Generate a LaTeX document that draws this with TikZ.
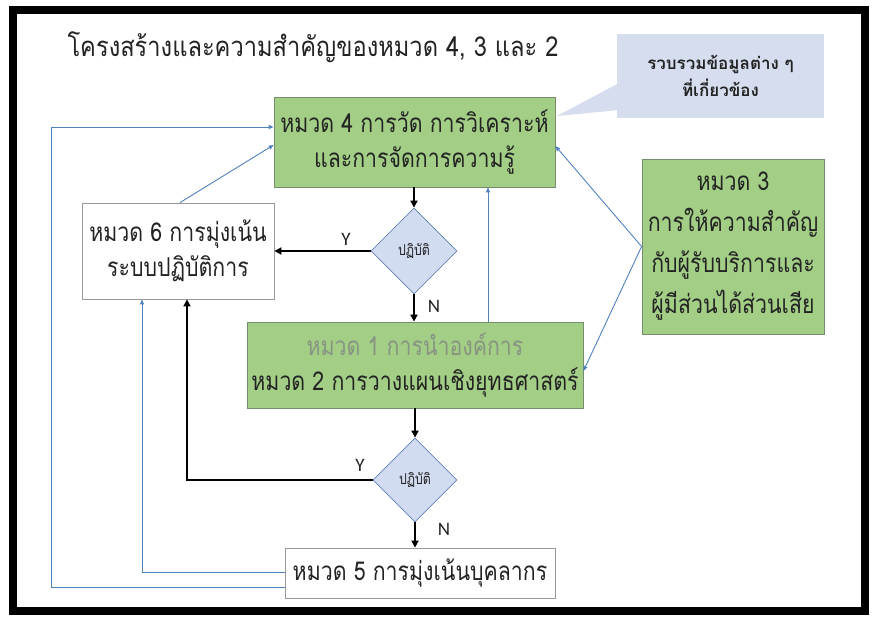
\documentclass[tikz,border=0pt]{standalone}
\usepackage{fontspec}
\setmainfont{Loma}[Script=Thai]
\newfontfamily\thai[Script=Thai]{Loma}
\newfontfamily\thaic[Script=Thai,FakeStretch=0.82]{Loma}
\newfontfamily\thait[Script=Thai,FakeStretch=0.86]{Loma}
\newfontfamily\lat{Carlito}
\usetikzlibrary{arrows.meta,shapes.geometric}
\definecolor{gfill}{RGB}{163,206,134}
\definecolor{gdraw}{RGB}{120,140,110}
\definecolor{dfill}{RGB}{210,220,240}
\definecolor{ddraw}{RGB}{100,130,180}
\definecolor{cfill}{RGB}{214,221,238}
\definecolor{bline}{RGB}{80,130,190}
\definecolor{txt}{RGB}{35,35,35}
\definecolor{faded}{RGB}{135,148,130}
\tikzset{
  gbox/.style={draw=gdraw,fill=gfill,line width=0.8pt,align=center,inner sep=0pt,text=txt},
  wbox/.style={draw=gray!80,fill=white,line width=0.8pt,align=center,inner sep=0pt,text=txt},
  dec/.style={shape=diamond,draw=ddraw,fill=dfill,line width=0.8pt,inner sep=0pt,aspect=1,text=txt,font=\thaic\fontsize{15}{15}\selectfont},
  blk/.style={line width=2.2pt,-{Triangle[length=7pt,width=7pt]}},
  blu/.style={draw=bline,line width=0.9pt,-{Triangle[length=5pt,width=4pt]}},
  big/.style={font=\thaic\fontsize{26}{35}\selectfont},
  lab/.style={font=\lat\fontsize{19}{19}\selectfont,text=txt}
}
\begin{document}
\begin{tikzpicture}[x=1pt,y=-1pt]
\useasboundingbox (0,0) rectangle (877,621);
\fill[white] (0,0) rectangle (877,621);
\draw[line width=8pt] (13,10) rectangle (865,611);
% title
\node[anchor=west,font=\thait\fontsize{27.5}{30}\selectfont,text=txt] (title) at (64,47) {โครงสร้างและความสำคัญของหมวด 4, 3 และ 2};
% callout
\fill[cfill] (619,83) -- (557,116) -- (619,110) -- cycle;
\node[fill=cfill,minimum width=207pt,minimum height=84pt,inner sep=0pt,align=center,font=\thai\bfseries\fontsize{17}{27}\selectfont,text=txt] (call) at (720.5,76) {รวบรวมข้อมูลต่าง ๆ\\ที่เกี่ยวข้อง};
% boxes
\node[gbox,big,minimum width=281pt,minimum height=90pt] (b4) at (414.5,142) {หมวด 4 การวัด การวิเคราะห์\\และการจัดการความรู้};
\node[wbox,big,minimum width=192pt,minimum height=96pt] (b6) at (178,251) {หมวด 6 การมุ่งเน้น\\ระบบปฏิบัติการ};
\node[dec,minimum width=86pt,minimum height=86pt] (d1) at (414,251) {ปฏิบัติ};
\node[gbox,big,minimum width=336pt,minimum height=86pt] (b12) at (415,365) {\textcolor{faded}{หมวด 1 การนำองค์การ}\\หมวด 2 การวางแผนเชิงยุทธศาสตร์};
\node[gbox,font=\thaic\fontsize{26}{41}\selectfont,minimum width=182pt,minimum height=175pt] (b3) at (733,246.5) {หมวด 3\\การให้ความสำคัญ\\กับผู้รับบริการและ\\ผู้มีส่วนได้ส่วนเสีย};
\node[dec,minimum width=84pt,minimum height=84pt] (d2) at (415,480) {ปฏิบัติ};
\node[wbox,big,minimum width=270pt,minimum height=50pt] (b5) at (420,573) {หมวด 5 การมุ่งเน้นบุคลากร};
% labels
\node[lab] (y1) at (346,239) {Y};
\node[lab] (n1) at (434,306) {N};
\node[lab] (y2) at (360,465) {Y};
\node[lab] (n2) at (444,529) {N};
% black connectors
\draw[blk] (b4.south -| d1) -- (d1.north);
\draw[blk] (d1.west) -- (b6.east |- d1.west);
\draw[blk] (d1.south) -- (b12.north -| d1);
\draw[blk] (b12.south -| d2) -- (d2.north);
\draw[blk] (d2.west) -| (187,0 |- b6.south);
\draw[blk] (d2.south) -- (b5.north -| d2);
% blue connectors
\draw[blu] (488,0 |- b12.north) -- (488,0 |- b4.south);
\draw[blu] (180,0 |- b6.north) -- (b4.west |- 0,145);
\draw[blu] (b3.west) -- (b4.east |- 0,146);
\draw[blu] (b3.west) -- (b12.east |- 0,371);
\draw[blu] (b5.west |- 0,572) -| (142,0 |- b6.south);
\draw[blu,-] (b5.west |- 0,587) -| (51,127);
\draw[blu] (51,127) -- (b4.west |- 0,127);
\end{tikzpicture}
\end{document}
